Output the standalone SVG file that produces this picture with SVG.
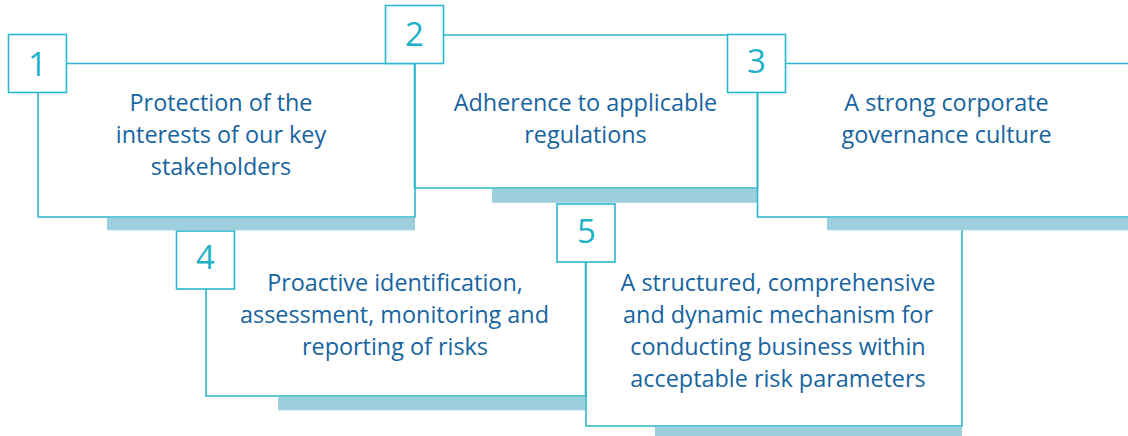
<svg xmlns="http://www.w3.org/2000/svg" width="1128" height="436" viewBox="0 0 1128 436">
<style>
.edge{fill:none;stroke:#2bb7cb;stroke-width:1.6}
.num{fill:#fff;stroke:#2bb7cb;stroke-width:1.6}
.shadow{fill:#9dcfdc}
.digit{font-family:"Open Sans","Liberation Sans",sans-serif;font-size:33px;fill:#1eb1c7;text-anchor:middle}
.label{font-family:"Open Sans","Liberation Sans",sans-serif;font-size:23.4px;fill:#17649f;text-anchor:middle}
</style>
<rect width="1128" height="436" fill="#fff"/>
<g id="node4">
  <path class="edge" d="M206,289 V396 H585.5 V262"/>
  <rect class="shadow" x="278" y="396.8" width="307.5" height="13.5"/>
  <rect class="num" x="176.5" y="231" width="58" height="58"/>
  <text class="digit" x="205.5" y="269">4</text>
  <text class="label" x="395" y="291">Proactive identification,</text>
  <text class="label" x="394.5" y="323">assessment, monitoring and</text>
  <text class="label" x="395" y="355">reporting of risks</text>
</g>
<g id="node5">
  <path class="edge" d="M586,262 V426 H962 V217"/>
  <rect class="shadow" x="655" y="426.8" width="307" height="10"/>
  <rect class="num" x="557" y="204" width="58" height="58"/>
  <text class="digit" x="586.5" y="243">5</text>
  <text class="label" x="778" y="291">A structured, comprehensive</text>
  <text class="label" x="778" y="323">and dynamic mechanism for</text>
  <text class="label" x="778" y="355">conducting business within</text>
  <text class="label" x="778" y="387">acceptable risk parameters</text>
</g>
<g id="node1">
  <path class="edge" d="M38,93 V217 H415 V63.5 H67"/>
  <rect class="shadow" x="107" y="217.8" width="308" height="12.5"/>
  <rect class="num" x="8.5" y="34.5" width="58" height="58"/>
  <text class="digit" x="37.5" y="76">1</text>
  <text class="label" x="221" y="111">Protection of the</text>
  <text class="label" x="221" y="143">interests of our key</text>
  <text class="label" x="221" y="175">stakeholders</text>
</g>
<g id="node2">
  <path class="edge" d="M414.5,64 V188 H757.5 V35 H444"/>
  <rect class="shadow" x="492" y="188.8" width="265.5" height="14"/>
  <rect class="num" x="385.5" y="5.5" width="58" height="58"/>
  <text class="digit" x="414.5" y="46">2</text>
  <text class="label" x="585.5" y="111">Adherence to applicable</text>
  <text class="label" x="585.5" y="143">regulations</text>
</g>
<g id="node3">
  <path class="edge" d="M757.5,93 V217 H1130 M786,63.5 H1130"/>
  <rect class="shadow" x="827" y="217.8" width="301" height="12.5"/>
  <rect class="num" x="727.5" y="34.5" width="58" height="58"/>
  <text class="digit" x="756.5" y="73">3</text>
  <text class="label" x="946.5" y="111">A strong corporate</text>
  <text class="label" x="946.5" y="143">governance culture</text>
</g>
<g id="connectors"></g>
</svg>
